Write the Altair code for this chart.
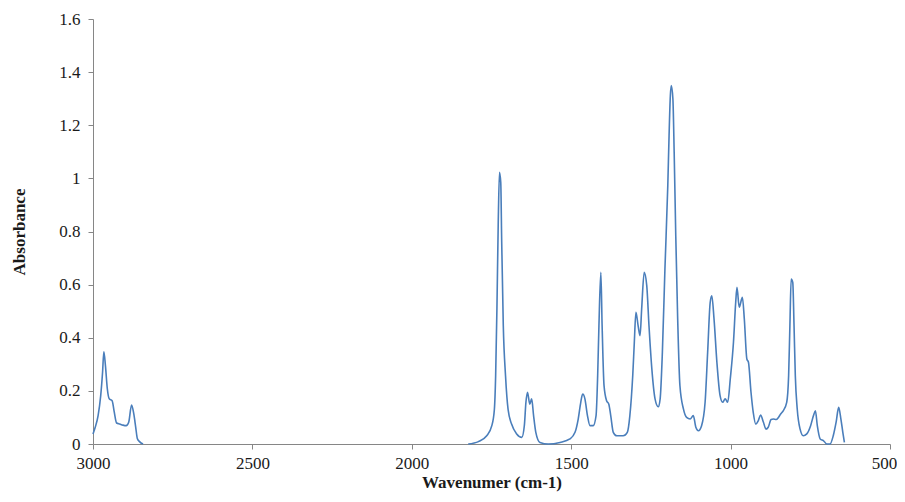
import altair as alt
import pandas as pd

# Segment 1: C-H stretch region
wn1 = [3000, 2993, 2984, 2976, 2970, 2966, 2961, 2955, 2949, 2940, 2934, 2926,
       2916, 2906, 2896, 2888, 2879, 2872, 2866, 2861, 2854, 2843]
ab1 = [0.038, 0.063, 0.107, 0.18, 0.27, 0.347, 0.295, 0.207, 0.17, 0.163, 0.125, 0.079,
       0.075, 0.071, 0.069, 0.082, 0.147, 0.113, 0.063, 0.021, 0.009, 0.0]

# Segment 2: fingerprint region
wn2 = [1823, 1791, 1765, 1749, 1741, 1737, 1733, 1729, 1725, 1721, 1718, 1713,
       1706, 1698, 1687, 1671, 1655, 1647, 1642, 1637, 1630, 1624, 1618, 1611,
       1598, 1572, 1535, 1504, 1488, 1478, 1470, 1464, 1457, 1449, 1441, 1431,
       1422, 1417, 1413, 1407, 1403, 1397, 1389, 1382, 1376, 1368, 1357, 1337,
       1324, 1316, 1307, 1302, 1297, 1290, 1284, 1279, 1271, 1263, 1256, 1247,
       1237, 1227, 1221, 1214, 1206, 1197, 1193, 1189, 1186, 1181, 1177, 1172,
       1166, 1159, 1148, 1138, 1127, 1117, 1109, 1101, 1091, 1080, 1072, 1064,
       1059, 1052, 1043, 1033, 1025, 1017, 1009, 1001, 991, 984, 980, 973,
       963, 957, 949, 944, 936, 929, 921, 913, 906, 897, 889, 882,
       873, 866, 857, 850, 843, 835, 824, 818, 814, 810, 805, 801,
       797, 791, 782, 772, 761, 749, 740, 734, 728, 719, 709, 698,
       688, 678, 669, 661, 654, 648, 643]
ab2 = [0.0, 0.009, 0.031, 0.069, 0.13, 0.257, 0.508, 0.822, 1.023, 0.985, 0.76, 0.445,
       0.257, 0.13, 0.075, 0.038, 0.025, 0.069, 0.157, 0.195, 0.15, 0.17, 0.107, 0.044,
       0.006, 0.0, 0.006, 0.019, 0.044, 0.094, 0.157, 0.188, 0.17, 0.107, 0.069, 0.069,
       0.107, 0.257, 0.445, 0.646, 0.445, 0.22, 0.163, 0.15, 0.107, 0.044, 0.031, 0.031,
       0.044, 0.107, 0.257, 0.383, 0.496, 0.445, 0.408, 0.508, 0.646, 0.596, 0.445, 0.282,
       0.17, 0.14, 0.17, 0.345, 0.659, 0.973, 1.161, 1.311, 1.349, 1.299, 1.098, 0.784,
       0.471, 0.22, 0.132, 0.1, 0.094, 0.107, 0.063, 0.05, 0.069, 0.157, 0.345, 0.533,
       0.558, 0.471, 0.308, 0.182, 0.157, 0.17, 0.157, 0.245, 0.383, 0.533, 0.59, 0.515,
       0.552, 0.471, 0.32, 0.308, 0.195, 0.119, 0.075, 0.088, 0.109, 0.082, 0.056, 0.063,
       0.092, 0.094, 0.092, 0.1, 0.113, 0.125, 0.157, 0.257, 0.445, 0.621, 0.608, 0.445,
       0.257, 0.132, 0.056, 0.031, 0.038, 0.069, 0.107, 0.125, 0.069, 0.019, 0.013, 0.0,
       0.0, 0.031, 0.082, 0.138, 0.094, 0.044, 0.006]

x_ticks = [3000, 2500, 2000, 1500, 1000, 500]
y_ticks = [0, 0.2, 0.4, 0.6, 0.8, 1.0, 1.2, 1.4, 1.6]

df = pd.concat([
    pd.DataFrame({"wn": wn1, "abs": ab1, "seg": "a", "order": range(len(wn1))}),
    pd.DataFrame({"wn": wn2, "abs": ab2, "seg": "b", "order": range(len(wn2))}),
])

font = "Liberation Serif"

chart = alt.Chart(df).mark_line(color="#4A7EBB", strokeWidth=1.6, interpolate="monotone").encode(
    x=alt.X("wn:Q", title="Wavenumer (cm-1)",
            scale=alt.Scale(domain=[500, 3000], reverse=True, nice=False, zero=False),
            axis=alt.Axis(values=x_ticks, format="d", grid=False, domainColor="#868686",
                          tickColor="#868686", tickSize=5, labelPadding=6, titlePadding=3,
                          labelFlush=False,
                          labelOffset=alt.expr("datum.value == 500 ? -6 : 0"),
                          labelFontSize=17, titleFontSize=17)),
    y=alt.Y("abs:Q", title="Absorbance",
            scale=alt.Scale(domain=[0, 1.6], nice=False),
            axis=alt.Axis(values=y_ticks, format="~g", grid=False, domainColor="#868686",
                          tickColor="#868686", tickSize=5, labelPadding=8, titlePadding=30,
                          labelFontSize=17, titleFontSize=17)),
    detail="seg:N",
    order="order:Q",
).properties(
    width=797, height=425,
    autosize=alt.AutoSizeParams(type="none"),
    padding={"left": 85, "top": 11, "right": 7, "bottom": 50},
).configure_view(stroke=None).configure_axis(
    labelFont=font, titleFont=font, labelColor="#1a1a1a", titleColor="#1a1a1a",
    titleFontWeight="bold"
)

chart.save("out.html", embed_options={"renderer": "svg", "actions": False})
